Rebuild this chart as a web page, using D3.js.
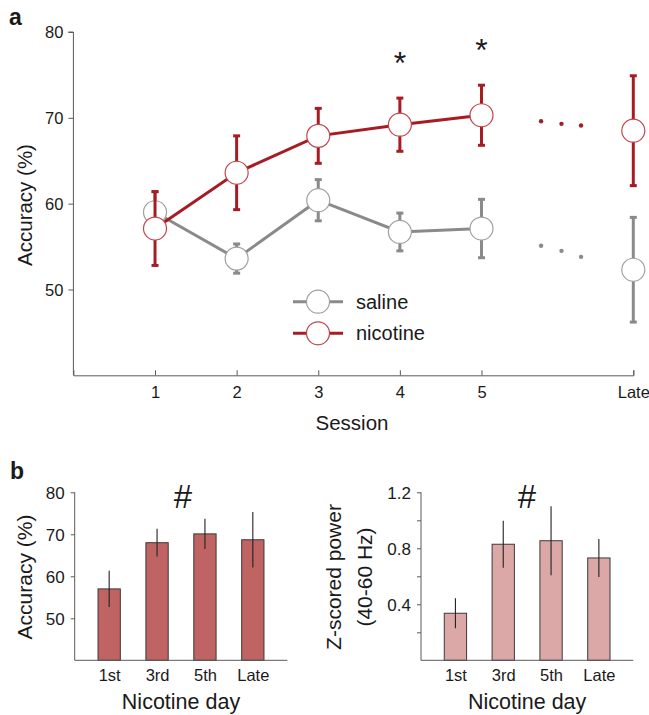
<!DOCTYPE html>
<html><head><meta charset="utf-8">
<script src="https://cdn.jsdelivr.net/npm/d3@7"></script>
<style>
body{margin:0;background:#fff;}
svg{display:block;font-family:"Liberation Sans",Arial,sans-serif;}
</style></head>
<body><svg id="c" width="649" height="715"></svg>
<script>
// ---------- DATA ----------
const sessions = ["1","2","3","4","5","Late"];
const salineMean = [59.0, 53.6, 60.4, 56.7, 57.1, 52.3];
const salineErr  = [2.4, 1.7, 2.4, 2.2, 3.4, 6.1];
const nicotineMean = [57.1, 63.6, 67.9, 69.2, 70.3, 68.5];
const nicotineErr  = [4.3, 4.3, 3.2, 3.1, 3.5, 6.4];
const salineGap   = [55.1, 54.5, 53.8];
const nicotineGap = [69.6, 69.3, 69.1];
const sigSessions = ["4","5"];
const yTicksTop = [50, 60, 70, 80];

const nicDays = ["1st","3rd","5th","Late"];
const nicAccMean = [57.0, 68.0, 70.1, 68.7];
const nicAccErr  = [4.3, 3.3, 3.6, 6.6];
const powerMean = [0.336, 0.829, 0.854, 0.731];
const powerErr  = [0.107, 0.168, 0.246, 0.136];
const yTicksAcc = [50, 60, 70, 80];
const yTicksPow = [0.2, 0.4, 0.6, 0.8, 1.0, 1.2];
const yLabelsPow = [0.4, 0.8, 1.2];

// ---------- STYLE ----------
const RED_LINE = "#a61c24", RED_MK = "#c2444a";
const GRAY_LINE = "#8a8a8a", GRAY_MK = "#a0a0a0";
const AX = "#5a5a5a", TXT = "#1a1a1a";

const svg = d3.select("#c");

// ================= Panel a =================
const latePos = 6.86;
const gapPos = [5.73, 5.98, 6.22];
const xA = d3.scaleLinear().domain([0, latePos]).range([73.4, 633.3]);
const posOf = s => s === "Late" ? latePos : +s;
const yA = d3.scaleLinear().domain([40, 80]).range([375.3, 32]);

const gA = svg.append("g");
// axes
const yAxA = d3.axisLeft(yA).tickValues(yTicksTop).tickSize(5).tickPadding(5).tickFormat(d3.format("d"));
const gy = gA.append("g").attr("transform", `translate(${xA(0)},0)`).call(yAxA);
gy.select(".domain").attr("d", `M-5,${yA(80)}H0V${yA(40)}`);
const xAxA = d3.axisBottom(xA).tickValues(sessions.map(posOf)).tickSize(-5).tickPadding(10.5)
  .tickFormat((d,i) => sessions[i]);
const gx = gA.append("g").attr("transform", `translate(0,${yA(40)})`).call(xAxA);
[gy, gx].forEach(g => {
  g.select(".domain").attr("stroke", AX);
  g.selectAll(".tick line").attr("stroke", AX);
  g.selectAll(".tick text").attr("fill", TXT).style("font-size", "16.5px").style("font-family", "Liberation Sans, Arial");
});
gy.selectAll(".tick text").attr("dy", "0.36em");

function series(mean, err, lineC, mkC, gap) {
  const pts = sessions.slice(0, 5).map((s, i) => [xA(posOf(s)), yA(mean[i])]);
  gA.append("path").attr("d", d3.line()(pts)).attr("fill", "none")
    .attr("stroke", lineC).attr("stroke-width", 3);
  sessions.forEach((s, i) => {
    const x = xA(posOf(s)), y1 = yA(mean[i] + err[i]), y0 = yA(mean[i] - err[i]);
    gA.append("line").attr("x1", x).attr("x2", x).attr("y1", y1).attr("y2", y0)
      .attr("stroke", lineC).attr("stroke-width", 3);
    [y1, y0].forEach(yy => gA.append("line").attr("x1", x - 3.5).attr("x2", x + 3.5)
      .attr("y1", yy).attr("y2", yy).attr("stroke", lineC).attr("stroke-width", 3));
  });
  sessions.forEach((s, i) => {
    gA.append("circle").attr("cx", xA(posOf(s))).attr("cy", yA(mean[i])).attr("r", 11.5)
      .attr("fill", "#fff").attr("stroke", mkC).attr("stroke-width", 1.2);
  });
  gap.forEach((v, i) => gA.append("circle").attr("cx", xA(gapPos[i])).attr("cy", yA(v))
    .attr("r", 2.2).attr("fill", lineC));
}
series(salineMean, salineErr, GRAY_LINE, GRAY_MK, salineGap);
series(nicotineMean, nicotineErr, RED_LINE, RED_MK, nicotineGap);

// asterisks
sigSessions.forEach(s => {
  const i = sessions.indexOf(s);
  gA.append("text").attr("x", xA(posOf(s))).attr("y", yA(nicotineMean[i] + nicotineErr[i]) - 24)
    .attr("text-anchor", "middle").style("font-size", "32px").attr("fill", TXT).text("*");
});

// legend
const legend = [["saline", GRAY_LINE, GRAY_MK, 301.7], ["nicotine", RED_LINE, RED_MK, 333.3]];
legend.forEach(([t, lc, mc, y]) => {
  gA.append("line").attr("x1", 293).attr("x2", 343).attr("y1", y).attr("y2", y)
    .attr("stroke", lc).attr("stroke-width", 3);
  gA.append("circle").attr("cx", 318).attr("cy", y).attr("r", 11.5).attr("fill", "#fff")
    .attr("stroke", mc).attr("stroke-width", 1.2);
  gA.append("text").attr("x", 356).attr("y", y + 7).style("font-size", "20px").attr("fill", TXT).text(t);
});

// labels
gA.append("text").attr("x", 352).attr("y", 429.5).attr("text-anchor", "middle")
  .style("font-size", "20.5px").attr("fill", TXT).text("Session");
gA.append("text").attr("transform", "translate(32,205) rotate(-90)").attr("text-anchor", "middle")
  .style("font-size", "20.5px").attr("fill", TXT).text("Accuracy (%)");
svg.append("text").attr("x", 9).attr("y", 25).style("font-size", "23px").style("font-weight", "bold")
  .attr("fill", TXT).text("a");
svg.append("text").attr("x", 10).attr("y", 479).style("font-size", "23px").style("font-weight", "bold")
  .attr("fill", TXT).text("b");

// ================= Panel b =================
function barPanel(x0, x1, yDomain, tickVals, labelVals, fmt, mean, err, fill, yLabelLines, labelXs, hashX) {
  const g = svg.append("g");
  const x = d3.scalePoint().domain(nicDays).range([x0, x1]).padding(0.72);
  const y = d3.scaleLinear().domain(yDomain).range([660.3, 492.3]);
  const bw = 22.3;
  nicDays.forEach((d, i) => {
    g.append("rect").attr("x", x(d) - bw / 2).attr("y", y(mean[i])).attr("width", bw)
      .attr("height", y(yDomain[0]) - y(mean[i])).attr("fill", fill)
      .attr("stroke", "#3a3a3a").attr("stroke-width", 1);
  });
  nicDays.forEach((d, i) => {
    g.append("line").attr("x1", x(d)).attr("x2", x(d)).attr("y1", y(mean[i] + err[i]))
      .attr("y2", y(mean[i] - err[i])).attr("stroke", "#222").attr("stroke-width", 1.1);
  });
  const ya = d3.axisLeft(y).tickValues(tickVals).tickSize(4).tickPadding(6)
    .tickFormat(d => labelVals.some(v => Math.abs(v - d) < 1e-9) ? fmt(d) : "");
  const gy = g.append("g").attr("transform", `translate(${x0},0)`).call(ya);
  gy.select(".domain").attr("d", `M0,${y(yDomain[1])}V${y(yDomain[0])}`).attr("stroke", AX);
  gy.selectAll(".tick line").attr("stroke", AX);
  gy.selectAll(".tick text").attr("fill", TXT).attr("dy", "0.36em")
    .style("font-size", "17px").style("font-family", "Liberation Sans, Arial");
  const xa = d3.axisBottom(x).tickSize(0).tickPadding(9);
  const gx = g.append("g").attr("transform", `translate(0,${y(yDomain[0])})`).call(xa);
  gx.select(".domain").attr("d", `M${x0},0H${x1}`).attr("stroke", AX);
  gx.selectAll(".tick text").attr("fill", TXT).style("font-size", "16.5px")
    .style("font-family", "Liberation Sans, Arial");
  g.append("text").attr("x", (x(nicDays[0]) + x(nicDays[3])) / 2).attr("y", 709)
    .attr("text-anchor", "middle").style("font-size", "21.5px").attr("fill", TXT).text("Nicotine day");
  yLabelLines.forEach((t, k) => g.append("text")
    .attr("transform", `translate(${labelXs[k]},577) rotate(-90)`).attr("text-anchor", "middle")
    .style("font-size", "21px").attr("fill", TXT).text(t));
  g.append("text").attr("x", hashX).attr("y", 507.5).attr("text-anchor", "middle")
    .style("font-size", "33px").attr("fill", TXT).text("#");
}
barPanel(74.7, 287.3, [40, 80], yTicksAcc, yTicksAcc, d3.format("d"), nicAccMean, nicAccErr,
  "#c06363", ["Accuracy (%)"], [31.5], 183);
barPanel(421, 633.3, [0, 1.2], yTicksPow, yLabelsPow, d3.format(".1f"), powerMean, powerErr,
  "#dca7a7", ["Z-scored power", "(40-60 Hz)"], [341, 371.5], 527);
</script></body></html>
